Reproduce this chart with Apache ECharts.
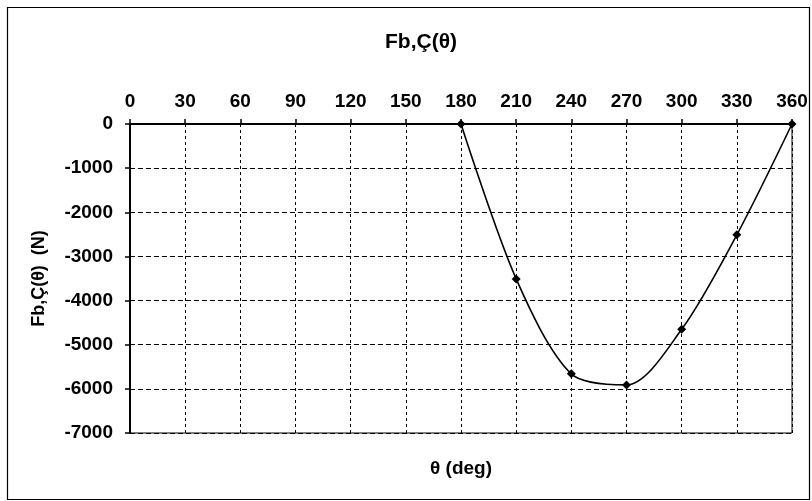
<!DOCTYPE html>
<html>
<head>
<meta charset="utf-8">
<script src="https://cdn.jsdelivr.net/npm/echarts@6/dist/echarts.min.js"></script>
<style>
html,body{margin:0;padding:0;background:#fff;}
#c{width:812px;height:501px;}
</style>
</head>
<body>
<div id="c"></div>
<script>
const titleText = 'Fb,Ç(θ)';
const xName = 'θ (deg)';
const yName = 'Fb,Ç(θ)  (N)';
const thetaDeg = [180, 210, 240, 270, 300, 330, 360];
const forceN = [0, -3510, -5660, -5910, -4650, -2510, 0];
const xTicks = [0, 30, 60, 90, 120, 150, 180, 210, 240, 270, 300, 330, 360];
const yTicks = [0, -1000, -2000, -3000, -4000, -5000, -6000, -7000];

const font = '"Liberation Sans", Arial, sans-serif';
const chart = echarts.init(document.getElementById('c'), null, {renderer: 'canvas'});
chart.setOption({
  animation: false,
  backgroundColor: '#fff',
  title: {
    text: titleText, left: 416, top: 27, textAlign: 'center',
    textStyle: {fontFamily: font, fontWeight: 'bold', fontSize: 21, color: '#000'}
  },
  graphic: [{
    type: 'rect', left: 5, top: 5, z: -1,
    shape: {width: 802, height: 492},
    style: {fill: 'none', stroke: '#000', lineWidth: 1.2}
  }],
  grid: {left: 130, right: 20, top: 124, bottom: 68, show: true, borderColor: '#000', borderWidth: 1, backgroundColor: 'transparent'},
  xAxis: {
    type: 'value', position: 'top', min: xTicks[0], max: xTicks[xTicks.length - 1], interval: 30,
    name: xName, nameLocation: 'middle', nameGap: -354,
    nameTextStyle: {fontFamily: font, fontWeight: 'bold', fontSize: 19, color: '#000'},
    axisLine: {onZero: false, lineStyle: {color: '#000', width: 2}},
    axisTick: {show: true, length: 5, lineStyle: {color: '#000', width: 1.5}},
    axisLabel: {margin: 13, fontFamily: font, fontWeight: 'bold', fontSize: 19, color: '#000'},
    splitLine: {show: true, lineStyle: {color: '#000', type: [3, 3], width: 1}}
  },
  yAxis: {
    type: 'value', min: yTicks[yTicks.length - 1], max: yTicks[0], interval: 1000,
    name: yName, nameLocation: 'middle', nameGap: 82, nameRotate: 90,
    nameTextStyle: {fontFamily: font, fontWeight: 'bold', fontSize: 18, color: '#000'},
    axisLine: {show: true, onZero: false, lineStyle: {color: '#000', width: 2}},
    axisTick: {show: true, length: 5, lineStyle: {color: '#000', width: 1.5}},
    axisLabel: {margin: 17, fontFamily: font, fontWeight: 'bold', fontSize: 19, color: '#000',
      formatter: v => String(v)},
    splitLine: {show: true, lineStyle: {color: '#000', type: [5, 3], width: 1}}
  },
  series: [{
    type: 'line',
    data: thetaDeg.map((t, i) => [t, forceN[i]]),
    smooth: 0.3,
    symbol: 'diamond', symbolSize: 9,
    itemStyle: {color: '#000'},
    lineStyle: {color: '#000', width: 1.6},
    clip: false
  }]
});
</script>
</body>
</html>
